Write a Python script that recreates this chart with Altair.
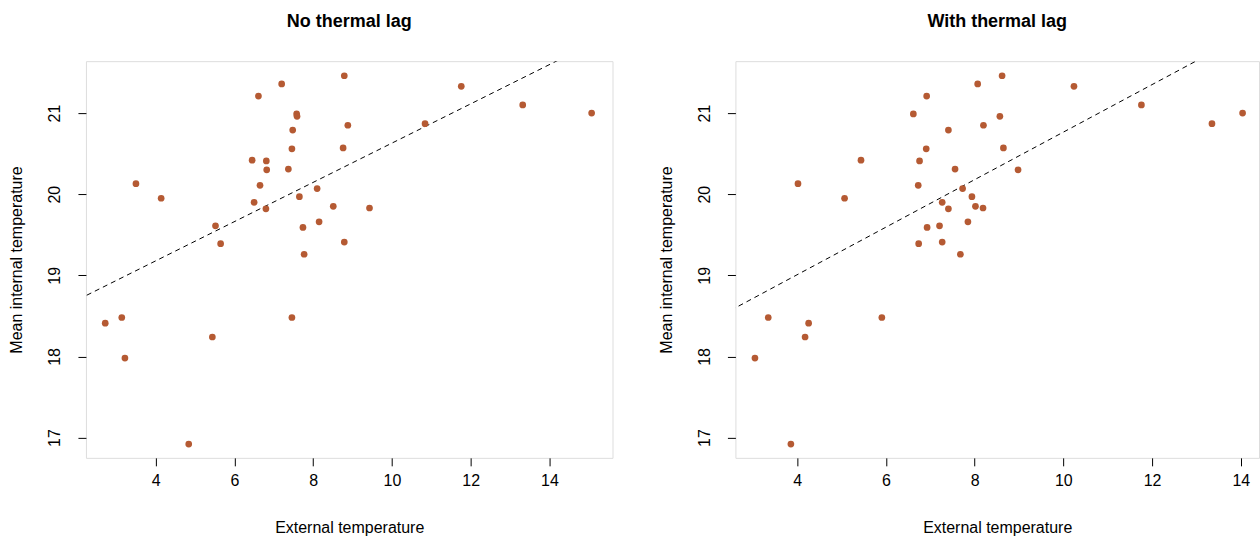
import altair as alt
import pandas as pd

# ---- data ----
titles = ["No thermal lag", "With thermal lag"]

ext_nolag = [8.79, 7.20, 6.61, 7.58, 7.59, 8.88, 7.48, 7.46, 8.76, 6.45,
             6.81, 6.82, 7.37, 3.50, 4.14, 6.65, 8.10, 7.65, 6.50, 6.80,
             8.51, 8.15, 5.52, 7.74, 5.65, 8.79, 7.77, 11.76, 13.32, 15.07,
             10.84, 9.43, 2.72, 3.14, 3.22, 7.46, 5.44, 4.84]
int_nolag = [21.46, 21.36, 21.21, 20.99, 20.96, 20.85, 20.79, 20.56, 20.57, 20.42,
             20.41, 20.30, 20.31, 20.13, 19.95, 20.11, 20.07, 19.97, 19.90, 19.82,
             19.85, 19.66, 19.61, 19.59, 19.39, 19.41, 19.26, 21.33, 21.10, 21.00,
             20.87, 19.83, 18.41, 18.48, 17.98, 18.48, 18.24, 16.92]

ext_lag = [8.62, 8.07, 6.92, 6.62, 8.57, 8.20, 7.41, 6.91, 8.65, 5.44,
           6.76, 7.56, 8.98, 4.02, 6.73, 7.73, 5.07, 7.94, 7.27, 7.41,
           8.02, 8.19, 7.85, 7.21, 6.93, 6.74, 7.27, 7.68, 10.24, 11.76,
           14.04, 13.35, 3.35, 4.26, 4.18, 3.05, 5.91, 3.86]
int_lag = [21.46, 21.36, 21.21, 20.99, 20.96, 20.85, 20.79, 20.56, 20.57, 20.42,
           20.41, 20.31, 20.30, 20.13, 20.11, 20.07, 19.95, 19.97, 19.90, 19.82,
           19.85, 19.83, 19.66, 19.61, 19.59, 19.39, 19.41, 19.26, 21.33, 21.10,
           21.00, 20.87, 18.48, 18.41, 18.24, 17.98, 18.48, 16.92]

line_intercept = [18.21, 17.835]
line_slope = [0.242, 0.293]

x_ticks = [4, 6, 8, 10, 12, 14]
y_ticks = [17, 18, 19, 20, 21]

x_domains = [[2.23, 15.60], [2.61, 14.41]]
y_domain = [16.75, 21.64]
panel_widths = [527, 524]
panel_height = 397

FONT = "Liberation Sans"
POINT_COLOR = "#B55A33"


def panel(i, ext, internal):
    pts = pd.DataFrame({"x": ext, "y": internal})
    xd = x_domains[i]
    line_df = pd.DataFrame({
        "x": [xd[0] - 1, xd[1] + 1],
        "y": [line_intercept[i] + line_slope[i] * (xd[0] - 1),
              line_intercept[i] + line_slope[i] * (xd[1] + 1)],
    })
    xscale = alt.Scale(domain=xd, nice=False, zero=False)
    yscale = alt.Scale(domain=y_domain, nice=False, zero=False)
    xaxis = alt.Axis(values=x_ticks, format="d", title="External temperature", grid=False,
                     domain=False, tickSize=8, tickColor="black", tickWidth=1,
                     labelFont=FONT, labelFontSize=16, labelColor="black",
                     labelPadding=7, titleFont=FONT, titleFontSize=16,
                     titleFontWeight="normal", titleColor="black", titlePadding=31)
    yaxis = alt.Axis(values=y_ticks, format="d", title="Mean internal temperature", grid=False,
                     domain=False, tickSize=8, tickColor="black", tickWidth=1,
                     labelFont=FONT, labelFontSize=16, labelColor="black",
                     labelAngle=-90, labelAlign="center", labelBaseline="bottom",
                     labelPadding=15, titleFont=FONT, titleFontSize=16,
                     titleFontWeight="normal", titleColor="black", titlePadding=22)
    pts_layer = alt.Chart(pts).mark_circle(size=45, opacity=1, color=POINT_COLOR).encode(
        x=alt.X("x:Q", scale=xscale, axis=xaxis),
        y=alt.Y("y:Q", scale=yscale, axis=yaxis),
    )
    line_layer = alt.Chart(line_df).mark_line(
        color="black", strokeWidth=1, strokeDash=[5, 4], clip=True
    ).encode(
        x=alt.X("x:Q", scale=xscale),
        y=alt.Y("y:Q", scale=yscale),
    )
    return alt.layer(line_layer, pts_layer).properties(
        width=panel_widths[i], height=panel_height,
        title=alt.TitleParams(titles[i], font=FONT, fontSize=18, fontWeight="bold",
                              color="black", anchor="middle", offset=30),
    )


left = panel(0, ext_nolag, int_nolag)
right = panel(1, ext_lag, int_lag)

chart = alt.hconcat(left, right, spacing=123, bounds="flush").properties(
    padding={"left": 8, "top": 12, "right": 0, "bottom": 0}
).configure_view(stroke="black", strokeWidth=1).configure(background="white")

chart.save("out.html", embed_options={"renderer": "svg", "actions": False})
